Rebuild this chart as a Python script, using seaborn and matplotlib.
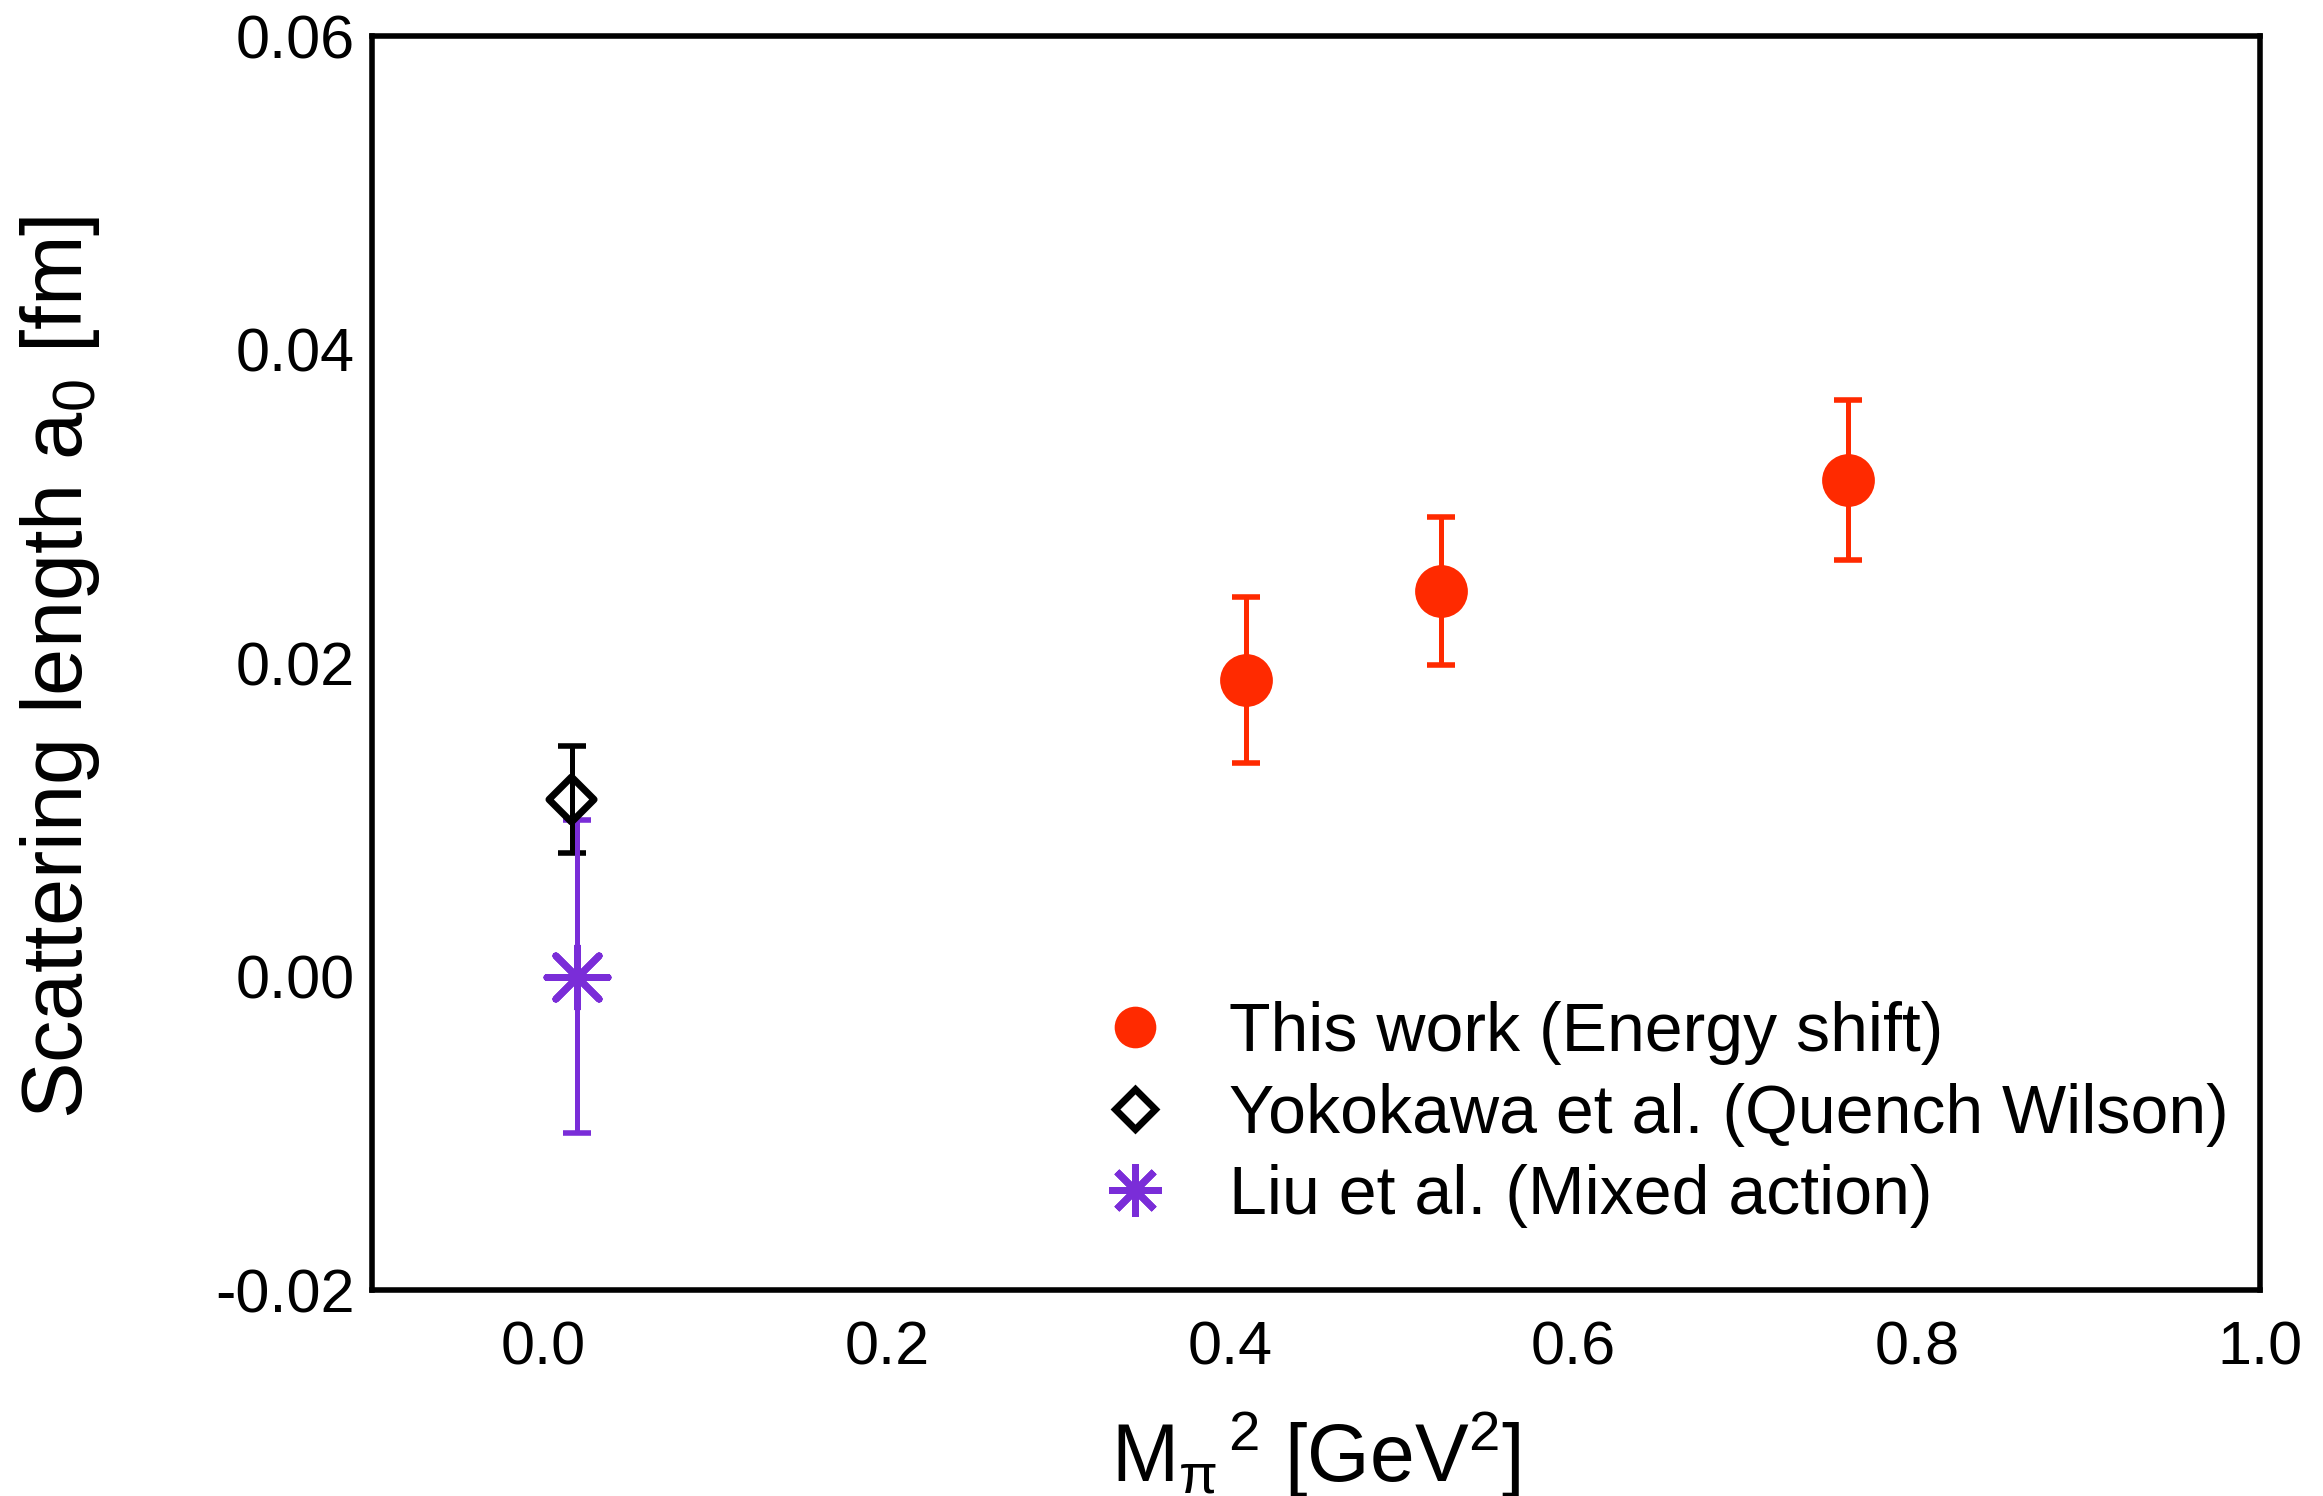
import numpy as np
import pandas as pd
import matplotlib
matplotlib.use("Agg")
import matplotlib.pyplot as plt
import seaborn as sns
from matplotlib.lines import Line2D

# ---- data ----
this_x = [0.409, 0.523, 0.760]
this_y = [0.0189, 0.0246, 0.0317]
this_err = [0.0053, 0.0047, 0.0051]

yoko_x = [0.0164]
yoko_y = [0.0113]
yoko_err = [0.0034]

liu_x = [0.0198]
liu_y = [0.0]
liu_err = [0.0100]

labels = ["This work (Energy shift)", "Yokokawa et al. (Quench Wilson)", "Liu et al. (Mixed action)"]
xticks = [0.0, 0.2, 0.4, 0.6, 0.8, 1.0]
yticks = [-0.02, 0.00, 0.02, 0.04, 0.06]

RED = "#FF2A00"
PURPLE = "#7A2DD8"
BLACK = "#000000"

sns.set_style("white")
plt.rcParams["font.family"] = ["Liberation Sans", "DejaVu Sans"]
plt.rcParams["mathtext.fontset"] = "custom"
plt.rcParams["mathtext.rm"] = "Liberation Sans"
plt.rcParams["mathtext.it"] = "Liberation Sans"
plt.rcParams["mathtext.default"] = "regular"
plt.rcParams["text.color"] = "black"
plt.rcParams["axes.labelcolor"] = "black"
plt.rcParams["xtick.color"] = "black"
plt.rcParams["ytick.color"] = "black"

fig = plt.figure(figsize=(23.23, 14.96), dpi=100)
ax = fig.add_axes([0.160, 0.1377, 0.813, 0.838])

df_this = pd.DataFrame({"x": this_x, "y": this_y, "s": labels[0]})
df_yoko = pd.DataFrame({"x": yoko_x, "y": yoko_y, "s": labels[1]})
df_liu = pd.DataFrame({"x": liu_x, "y": liu_y, "s": labels[2]})

# error bars
ax.errorbar(yoko_x, yoko_y, yerr=yoko_err, fmt="none", ecolor=BLACK,
            elinewidth=3.6, capsize=10, capthick=4, zorder=2)
ax.errorbar(liu_x, liu_y, yerr=liu_err, fmt="none", ecolor=PURPLE,
            elinewidth=3.6, capsize=10, capthick=4, zorder=2)
ax.errorbar(this_x, this_y, yerr=this_err, fmt="none", ecolor=RED,
            elinewidth=3.6, capsize=10, capthick=4, zorder=2)

# markers
sns.scatterplot(data=df_this, x="x", y="y", ax=ax, color=RED, marker="o",
                s=38**2, linewidth=0, zorder=3, legend=False)
sns.scatterplot(data=df_yoko, x="x", y="y", ax=ax, marker="D",
                s=23**2, facecolor="none", edgecolor=BLACK, linewidth=5,
                zorder=3, legend=False)
sns.scatterplot(data=df_liu, x="x", y="y", ax=ax, marker=(8, 2, 0),
                s=44**2, color=PURPLE, edgecolor=PURPLE, linewidth=5,
                zorder=3, legend=False)

ax.set_xlim(-0.1, 1.0)
ax.set_ylim(-0.02, 0.06)
ax.set_xticks(xticks)
ax.set_xticklabels([f"{v:.1f}" for v in xticks])
ax.set_yticks(yticks)
ax.set_yticklabels([f"{v:.2f}" for v in yticks])

for sp in ax.spines.values():
    sp.set_linewidth(4)
    sp.set_color("black")
ax.tick_params(axis="both", direction="in", length=19, width=3.6,
               labelsize=44, pad=12, colors="black")
ax.tick_params(axis="x", pad=22)

ax.set_ylabel("Scattering length a$_0$ [fm]", fontsize=61, color="black")
ax.set_xlabel("M$_{\\pi}$$^{\\,2}$ [GeV$^{2}$]", fontsize=58, color="black")
ax.yaxis.set_label_coords(-0.143, 0.497)
ax.xaxis.set_label_coords(0.50, -0.095)

handles = [
    Line2D([], [], linestyle="none", marker="o", markersize=30, color=RED, markeredgewidth=0),
    Line2D([], [], linestyle="none", marker="D", markersize=20, markerfacecolor="none",
           markeredgecolor=BLACK, markeredgewidth=5),
    Line2D([], [], linestyle="none", marker=(8, 2, 0), markersize=38, color=PURPLE,
           markeredgewidth=5),
]
leg = ax.legend(handles, labels, loc="upper left", bbox_to_anchor=(0.474, 0.331),
                bbox_transform=fig.transFigure, frameon=False, fontsize=49,
                handlelength=1.0, handletextpad=0.88, borderpad=0, borderaxespad=0,
                labelspacing=0.26)
for t in leg.get_texts():
    t.set_color("black")

fig.savefig("out.png", dpi=100)
